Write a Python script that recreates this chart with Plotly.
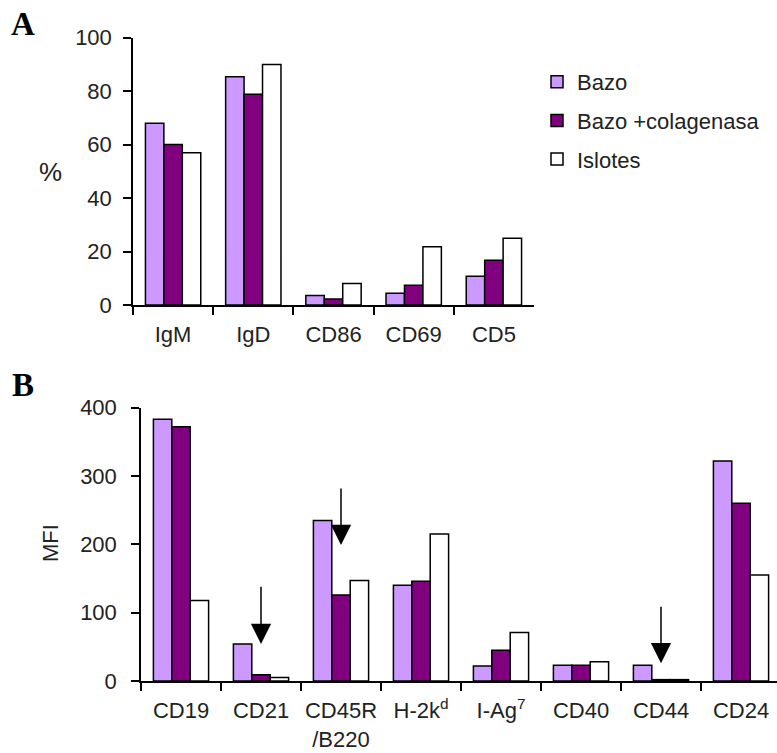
import plotly.graph_objects as go

# ---- data ----
cats_a = ["IgM", "IgD", "CD86", "CD69", "CD5"]
bazo_a = [68, 85.4, 3.6, 4.4, 10.8]
colag_a = [60, 78.8, 2.2, 7.4, 16.7]
islotes_a = [57, 90, 8, 21.8, 25]

cats_b = ["CD19", "CD21", "CD45R<br>/B220", "H-2k<sup>d</sup>", "I-Ag<sup>7</sup>", "CD40", "CD44", "CD24"]
bazo_b = [383, 54, 235, 140, 22, 23, 23, 322]
colag_b = [372, 9, 126, 146, 45, 23, 2, 260]
islotes_b = [118, 5, 147, 215, 71, 28, 2, 155]

series_names = ["Bazo", "Bazo +colagenasa", "Islotes"]
colors = ["#CC99FF", "#800080", "#FFFFFF"]

# arrows (category index, tip value, tail value)
arrow_cats = [1, 2, 6]
arrow_tip = [54, 199, 26]
arrow_tail = [140, 284, 111]

W, H = 777, 753
FONT = "Arial, Liberation Sans, sans-serif"

fig = go.Figure()
for name, col, vals in zip(series_names, colors, [bazo_a, colag_a, islotes_a]):
    fig.add_trace(go.Bar(x=cats_a, y=vals, name=name, legendgroup=name,
                         marker=dict(color=col, line=dict(color="black", width=1.5)),
                         xaxis="x", yaxis="y"))
for name, col, vals in zip(series_names, colors, [bazo_b, colag_b, islotes_b]):
    fig.add_trace(go.Bar(x=cats_b, y=vals, name=name, legendgroup=name, showlegend=False,
                         marker=dict(color=col, line=dict(color="black", width=1.5)),
                         xaxis="x2", yaxis="y2"))

def px_x(p):
    return p / W

def px_y(p):
    return 1 - p / H

axis_common = dict(showline=True, linecolor="black", linewidth=1.5, ticks="outside",
                   tickcolor="black", tickwidth=1.5, showgrid=False, zeroline=False,
                   automargin=False, tickangle=0,
                   tickfont=dict(family=FONT, size=22, color="#222"))

fig.update_layout(
    width=W, height=H,
    margin=dict(l=0, r=0, t=0, b=0, pad=0, autoexpand=False),
    paper_bgcolor="white", plot_bgcolor="white",
    barmode="group", bargap=0.31, bargroupgap=0,
    showlegend=True,
    legend=dict(x=px_x(537), y=px_y(61), xanchor="left", yanchor="top",
                font=dict(family=FONT, size=22, color="#222"),
                tracegroupgap=7, bgcolor="rgba(0,0,0,0)"),
    xaxis=dict(domain=[px_x(133), px_x(534)], anchor="y", type="category",
               tickson="boundaries", ticklen=8, ticklabelstandoff=9, **axis_common),
    yaxis=dict(domain=[px_y(305), px_y(37.7)], anchor="x", range=[0, 100], dtick=20,
               ticklen=8, ticklabelstandoff=7, **axis_common),
    xaxis2=dict(domain=[px_x(141), 1.0], anchor="y2", type="category",
                tickson="boundaries", ticklen=8, ticklabelstandoff=9,
                range=[-0.5, -0.5 + (W - 141) / 80.0], **axis_common),
    yaxis2=dict(domain=[px_y(681), px_y(407.7)], anchor="x2", range=[0, 400], dtick=100,
                ticklen=8, ticklabelstandoff=10, **axis_common),
)

annotations = [
    dict(text="<b>A</b>", x=px_x(23), y=px_y(24), xref="paper", yref="paper",
         xanchor="center", yanchor="middle", showarrow=False,
         font=dict(family="Times New Roman, Liberation Serif, serif", size=33, color="black")),
    dict(text="<b>B</b>", x=px_x(23), y=px_y(385), xref="paper", yref="paper",
         xanchor="center", yanchor="middle", showarrow=False,
         font=dict(family="Times New Roman, Liberation Serif, serif", size=33, color="black")),
    dict(text="%", x=px_x(51), y=px_y(172), xref="paper", yref="paper",
         xanchor="center", yanchor="middle", showarrow=False,
         font=dict(family=FONT, size=26, color="#222")),
    dict(text="MFI", x=px_x(50), y=px_y(543), xref="paper", yref="paper", textangle=-90,
         xanchor="center", yanchor="middle", showarrow=False,
         font=dict(family=FONT, size=22, color="#222")),
]
for ci, tip, tail in zip(arrow_cats, arrow_tip, arrow_tail):
    annotations.append(dict(x=cats_b[ci], y=tip, ax=cats_b[ci], ay=tail,
                            xref="x2", yref="y2", axref="x2", ayref="y2",
                            text="", showarrow=True, arrowhead=2, arrowsize=2.7,
                            arrowwidth=1.5, arrowcolor="black"))
fig.update_layout(annotations=annotations)

fig.write_html("out.html")
